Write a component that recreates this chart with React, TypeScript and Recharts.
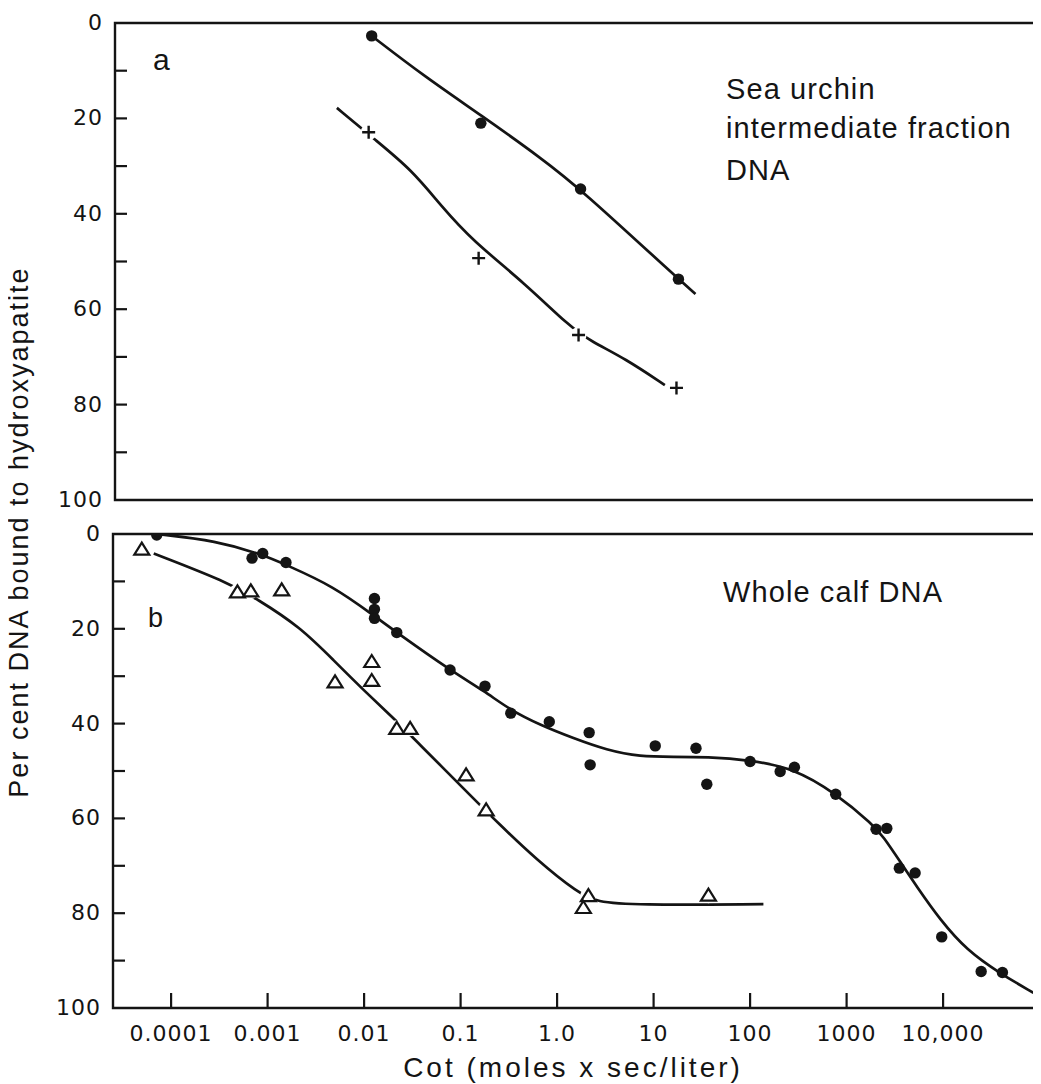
import React from 'react';
import { ComposedChart, Scatter, Line, XAxis, YAxis, ReferenceArea } from 'recharts';

// ---------- axes ----------
const X_DOMAIN_MIN = 2.5e-5;
const X_DOMAIN_MAX = 9.4e4;
const X_TICKS = [0.0001, 0.001, 0.01, 0.1, 1, 10, 100, 1000, 10000];
const X_TICK_LABELS = ['0.0001', '0.001', '0.01', '0.1', '1.0', '10', '100', '1000', '10,000'];
const Y_TICKS = [0, 10, 20, 30, 40, 50, 60, 70, 80, 90, 100];
const Y_TICK_LABELS = ['0', '', '20', '', '40', '', '60', '', '80', '', '100'];

// ---------- panel a : sea urchin intermediate fraction DNA ----------
const urchinDotCot = [0.0115, 0.156, 1.69, 17.5];
const urchinDotPct = [2.7, 21.0, 34.8, 53.7];
const urchinPlusCot = [0.0107, 0.148, 1.61, 16.7];
const urchinPlusPct = [22.9, 49.3, 65.4, 76.5];
const urchinDotCurveCot = [0.0115, 0.0412, 0.156, 0.667, 1.69, 17.5, 26.3];
const urchinDotCurvePct = [2.7, 11.3, 19.3, 28.4, 34.8, 53.7, 56.8];
const urchinPlusCurveCot = [0.00501, 0.0125, 0.03, 0.0614, 0.126, 0.448, 1.31, 2.2, 4.86, 12.65];
const urchinPlusCurvePct = [17.8, 24.5, 30.8, 38.5, 45.5, 54.6, 63.7, 66.8, 70.3, 75.9];

// ---------- panel b : whole calf DNA ----------
const calfDotCot = [7.1e-5, 6.9e-4, 8.9e-4, 1.55e-3, 0.0128, 0.0128, 0.0128, 0.0218, 0.0778, 0.179, 0.331, 0.83,
  2.15, 2.2, 10.4, 27.5, 35.6, 100, 205, 288, 771, 2020, 2610, 3520, 5130, 9680, 24800, 41200];
const calfDotPct = [0.2, 5.1, 4.1, 6.0, 13.6, 15.9, 17.8, 20.8, 28.7, 32.1, 37.8, 39.6,
  41.9, 48.7, 44.7, 45.2, 52.8, 48.0, 50.1, 49.2, 54.9, 62.3, 62.1, 70.5, 71.5, 85.0, 92.3, 92.5];
const calfTriCot = [4.97e-5, 4.87e-4, 6.7e-4, 1.4e-3, 5.0e-3, 0.012, 0.012, 0.0218, 0.03, 0.114, 0.184, 2.11, 1.87, 37];
const calfTriPct = [3.2, 12.2, 12.0, 11.8, 31.2, 26.9, 30.9, 41.0, 41.0, 50.8, 58.2, 76.3, 78.8, 76.2];
const calfDotCurveCot = [7.08e-5, 2.95e-4, 8.7e-4, 1.55e-3, 4.79e-3, 0.0128, 0.0219, 0.0776, 0.178, 0.331, 0.667,
  1.479, 3.27, 7.24, 16.0, 35.6, 100, 282, 771, 1897, 2410, 3581, 5333, 9311, 17580, 38900, 86300];
const calfDotCurvePct = [0, 1.4, 4.3, 6.5, 11.0, 17.3, 20.8, 28.7, 33.2, 37.2, 40.3,
  43.1, 45.6, 47.0, 47.0, 47.0, 47.7, 49.4, 54.7, 61.4, 63.9, 69.1, 74.4, 81.4, 87.8, 92.7, 96.8];
const calfTriCurveCot = [6.61e-5, 3.8e-4, 7.76e-4, 2.17e-3, 4.81e-3, 0.01067, 0.01936, 0.0352, 0.1472, 0.237, 0.617,
  1.667, 2.576, 6.17, 137.4];
const calfTriCurvePct = [4.1, 10.1, 13.7, 19.6, 26.6, 33.6, 38.5, 43.8, 56.5, 60.7, 68.8, 75.8, 77.6, 78.3, 78.1];

const zip = (xs: number[], ys: number[]) => xs.map((x, i) => ({ x, y: ys[i] }));

const INK = '#141414';
const TICK_FONT = '"DejaVu Sans", sans-serif';
const TEXT_FONT = '"Liberation Sans", Arial, sans-serif';
const LINE_W = 2.7;

const DotShape = (p: any) => <circle cx={p.cx} cy={p.cy} r={5.7} fill={INK} />;
const HaloShape = (p: any) => <circle cx={p.cx} cy={p.cy} r={8} fill="#fff" />;
const PlusShape = (p: any) => (
  <path d={`M${p.cx - 6.5},${p.cy}H${p.cx + 6.5}M${p.cx},${p.cy - 6.5}V${p.cy + 6.5}`} stroke={INK} strokeWidth={2.4} fill="none" />
);
const TriShape = (p: any) => (
  <path d={`M${p.cx},${p.cy - 6.5}L${p.cx + 7.5},${p.cy + 5.5}L${p.cx - 7.5},${p.cy + 5.5}Z`} fill="#fff" stroke={INK} strokeWidth={2.2} strokeLinejoin="miter" />
);

const YTick = (props: any) => {
  const { x, y, payload } = props;
  const idx = Y_TICKS.indexOf(payload.value);
  const label = idx >= 0 ? Y_TICK_LABELS[idx] : '';
  return (
    <g>
      {payload.value !== 0 && payload.value !== 100 && (
        <line x1={x} x2={x + 12} y1={y} y2={y} stroke={INK} strokeWidth={2.2} />
      )}
      {label !== '' && (
        <text x={x - 12} y={y - 1} dy="0.36em" textAnchor="end" fontFamily={TICK_FONT} fontSize={22} letterSpacing={1} fill={INK}>
          {label}
        </text>
      )}
    </g>
  );
};

const makeXTick = (showLabel: boolean) => (props: any) => {
  const { x, y, payload } = props;
  const idx = X_TICKS.indexOf(payload.value);
  const label = idx >= 0 ? X_TICK_LABELS[idx] : '';
  return (
    <g>
      <line x1={x} x2={x} y1={y} y2={y - 15} stroke={INK} strokeWidth={2.2} />
      {showLabel && (
        <text x={x} y={y + 33} textAnchor="middle" fontFamily={TICK_FONT} fontSize={22} letterSpacing={1} fill={INK}>
          {label}
        </text>
      )}
    </g>
  );
};

function Axes(showXLabels: boolean, xHeight: number) {
  return [
    <XAxis
      key="x"
      type="number"
      dataKey="x"
      scale="log"
      domain={[X_DOMAIN_MIN, X_DOMAIN_MAX]}
      allowDataOverflow
      ticks={X_TICKS}
      interval={0}
      tickSize={0}
      tickMargin={0}
      axisLine={false}
      tickLine={false}
      height={xHeight}
      tick={makeXTick(showXLabels)}
    />,
    <YAxis
      key="y"
      type="number"
      dataKey="y"
      domain={[0, 100]}
      reversed
      allowDataOverflow
      ticks={Y_TICKS}
      interval={0}
      tickSize={0}
      tickMargin={0}
      axisLine={false}
      tickLine={false}
      width={60}
      tick={YTick}
    />,
    <ReferenceArea
      key="frame"
      x1={X_DOMAIN_MIN}
      x2={X_DOMAIN_MAX}
      y1={0}
      y2={100}
      fill="none"
      fillOpacity={0}
      stroke={INK}
      strokeWidth={2.4}
      ifOverflow="visible"
    />,
  ];
}

export default function App() {
  return (
    <div style={{ position: 'relative', width: 1033, height: 1076, background: '#fff' }}>
      <div style={{ position: 'absolute', left: 0, top: 0 }}>
        <ComposedChart width={1033} height={510} margin={{ top: 15, right: 3, left: 47, bottom: 18 }}>
          {Axes(false, 0)}
          <Line data={zip(urchinDotCurveCot, urchinDotCurvePct)} dataKey="y" type="basis" stroke={INK} strokeWidth={LINE_W} dot={false} isAnimationActive={false} />
          <Line data={zip(urchinPlusCurveCot, urchinPlusCurvePct)} dataKey="y" type="basis" stroke={INK} strokeWidth={LINE_W} dot={false} isAnimationActive={false} />
          <Scatter data={zip(urchinPlusCot, urchinPlusPct)} shape={HaloShape} isAnimationActive={false} />
          <Scatter data={zip(urchinDotCot, urchinDotPct)} shape={DotShape} isAnimationActive={false} />
          <Scatter data={zip(urchinPlusCot, urchinPlusPct)} shape={PlusShape} isAnimationActive={false} />
        </ComposedChart>
      </div>
      <div style={{ position: 'absolute', left: 0, top: 510 }}>
        <ComposedChart width={1033} height={558} margin={{ top: 16, right: 4, left: 45, bottom: 28 }}>
          {Axes(true, 40)}
          <Line data={zip(calfDotCurveCot, calfDotCurvePct)} dataKey="y" type="basis" stroke={INK} strokeWidth={LINE_W} dot={false} isAnimationActive={false} />
          <Line data={zip(calfTriCurveCot, calfTriCurvePct)} dataKey="y" type="basis" stroke={INK} strokeWidth={LINE_W} dot={false} isAnimationActive={false} />
          <Scatter data={zip(calfTriCot, calfTriPct)} shape={HaloShape} isAnimationActive={false} />
          <Scatter data={zip(calfDotCot, calfDotPct)} shape={DotShape} isAnimationActive={false} />
          <Scatter data={zip(calfTriCot, calfTriPct)} shape={TriShape} isAnimationActive={false} />
        </ComposedChart>
      </div>
      <svg width={1041} height={1084} style={{ position: 'absolute', left: -8, top: -8, pointerEvents: 'none', overflow: 'visible' }}>
        <text transform="translate(28,532) rotate(-90)" textAnchor="middle" fontFamily={TEXT_FONT} fontSize={27} letterSpacing={2} fill={INK}>
          Per cent DNA bound to hydroxyapatite
        </text>
        <text x={573} y={1077} textAnchor="middle" fontFamily={TEXT_FONT} fontSize={28} letterSpacing={3} fill={INK}>
          Cot (moles x sec/liter)
        </text>
        <text x={153} y={70} fontFamily={TEXT_FONT} fontSize={30} fill={INK}>a</text>
        <text x={148} y={627} fontFamily={TEXT_FONT} fontSize={27} fill={INK}>b</text>
        <text fontFamily={TEXT_FONT} fontSize={29} letterSpacing={1.1} fill={INK}>
          <tspan x={726} y={99}>Sea urchin</tspan>
          <tspan x={726} y={138}>intermediate fraction</tspan>
          <tspan x={726} y={180}>DNA</tspan>
        </text>
        <text x={723} y={602} fontFamily={TEXT_FONT} fontSize={29} letterSpacing={1.1} fill={INK}>Whole calf DNA</text>
      </svg>
    </div>
  );
}
